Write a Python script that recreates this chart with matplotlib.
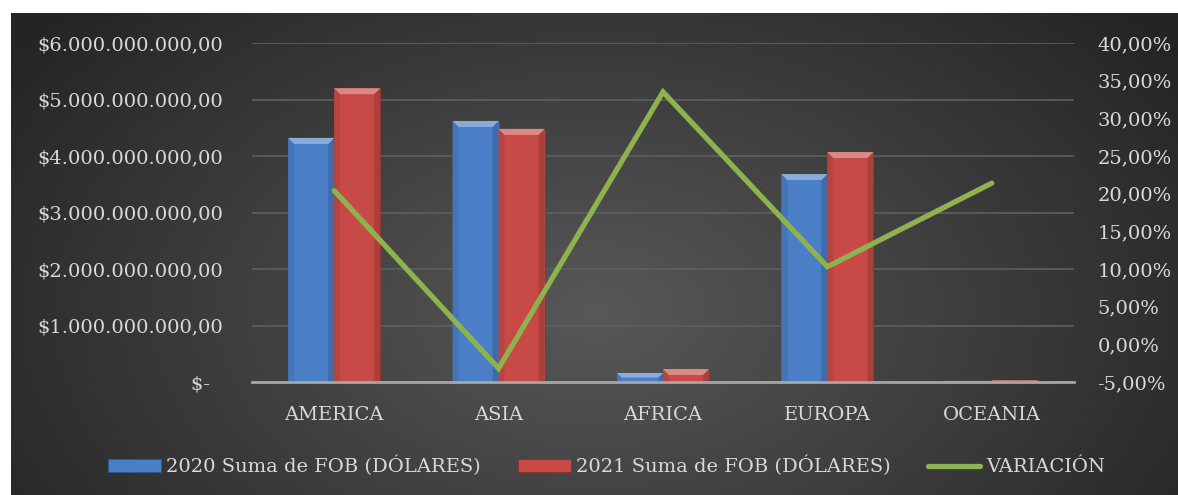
import numpy as np
import matplotlib
matplotlib.use("Agg")
import matplotlib.pyplot as plt
from matplotlib.patches import Polygon
from matplotlib.ticker import FuncFormatter, MultipleLocator

categories = ["AMERICA", "ASIA", "AFRICA", "EUROPA", "OCEANIA"]
fob_2020 = [4.32e9, 4.62e9, 0.16e9, 3.68e9, 0.02e9]
fob_2021 = [5.20e9, 4.48e9, 0.23e9, 4.07e9, 0.03e9]
variacion = [0.204, -0.032, 0.335, 0.103, 0.214]
series_labels = ["2020 Suma de FOB (DÓLARES)", "2021 Suma de FOB (DÓLARES)", "VARIACIÓN"]

W, H = 1178, 495
DPI = 100
fig = plt.figure(figsize=(W / DPI, H / DPI), dpi=DPI)
fig.patch.set_facecolor("white")

FONT = ["DejaVu Serif"]
FS = 14
TXT = "#d9d9d9"

# background radial gradient panel
bg = fig.add_axes([11 / W, 0, 1 - 11 / W, 1 - 13 / H])
bg.set_axis_off()
ny, nx = 300, 700
yy, xx = np.mgrid[0:ny, 0:nx]
cx, cy = nx * 0.5, ny * 0.62
r = np.sqrt(((xx - cx) / (nx * 0.62)) ** 2 + ((yy - cy) / (ny * 0.95)) ** 2)
r = np.clip(r, 0, 1)
inner = np.array([0x58, 0x58, 0x58]) / 255
outer = np.array([0x24, 0x24, 0x24]) / 255
img = inner[None, None, :] * (1 - r[..., None]) + outer[None, None, :] * r[..., None]
bg.imshow(img, aspect="auto", extent=[0, 1, 0, 1], origin="upper")
bg.set_xlim(0, 1)
bg.set_ylim(0, 1)

ax = fig.add_axes([252 / W, 1 - 382 / H, (1074 - 252) / W, (382 - 43) / H])
ax.patch.set_alpha(0)
x = np.arange(len(categories))
bw = 0.28
blue = "#4a7fc7"
red = "#c84a47"
b1 = ax.bar(x - bw / 2, fob_2020, bw, color=blue, edgecolor="#2e5a94", linewidth=0.6, zorder=3)
b2 = ax.bar(x + bw / 2, fob_2021, bw, color=red, edgecolor="#8e2f2d", linewidth=0.6, zorder=3)
ax.set_xlim(-0.5, len(categories) - 0.5)
ax.set_ylim(0, 6e9)
ax.yaxis.set_major_locator(MultipleLocator(1e9))


def money(v, pos):
    if v == 0:
        return "$-  "
    s = f"{v:,.2f}".replace(",", "X").replace(".", ",").replace("X", ".")
    return "$" + s


ax.yaxis.set_major_formatter(FuncFormatter(money))
ax.grid(axis="y", color="#5f5f5f", linewidth=1.2, zorder=0)
ax.set_axisbelow(True)
for s in ["top", "right", "left"]:
    ax.spines[s].set_visible(False)
ax.spines["bottom"].set_color("#a6a6a6")
ax.spines["bottom"].set_linewidth(2)
ax.spines["bottom"].set_zorder(4)
ax.tick_params(axis="both", length=0, colors=TXT, labelsize=FS)
ax.tick_params(axis="y", pad=21)
ax.tick_params(axis="x", pad=17)
ax.set_xticks(x)
ax.set_xticklabels(categories)
for t in ax.get_xticklabels() + ax.get_yticklabels():
    t.set_family(FONT)
    t.set_color(TXT)

ax2 = ax.twinx()
ax2.set_ylim(-0.05, 0.40)
ax2.yaxis.set_major_locator(MultipleLocator(0.05))
ax2.yaxis.set_major_formatter(FuncFormatter(lambda v, p: f"{v*100:.2f}%".replace(".", ",")))
for s in ax2.spines.values():
    s.set_visible(False)
ax2.tick_params(axis="y", length=0, colors=TXT, labelsize=FS, pad=17)
for t in ax2.get_yticklabels():
    t.set_family(FONT)
line, = ax2.plot(x, variacion, color="#8db24e", linewidth=3.8, solid_capstyle="round",
                 solid_joinstyle="miter", zorder=5)

# bevel highlights computed from the drawn bars
fig.canvas.draw()
bev = 6


def lighten(c, f):
    c = np.array(matplotlib.colors.to_rgb(c))
    return tuple(c + (1 - c) * f)


def darken(c, f):
    c = np.array(matplotlib.colors.to_rgb(c))
    return tuple(c * (1 - f))


for bars, col in ((b1, blue), (b2, red)):
    for rect in bars:
        bb = rect.get_window_extent()
        x0, x1, y0, y1 = bb.x0, bb.x1, bb.y0, bb.y1
        b = min(bev, (y1 - y0) / 2)
        top = Polygon([[x0, y1], [x1, y1], [x1 - b, y1 - b], [x0 + b, y1 - b]],
                      closed=True, transform=None, facecolor=lighten(col, 0.35), edgecolor="none", zorder=4)
        left = Polygon([[x0, y1], [x0 + b, y1 - b], [x0 + b, y0], [x0, y0]],
                       closed=True, transform=None, facecolor=darken(col, 0.08), edgecolor="none", zorder=4)
        right = Polygon([[x1, y1], [x1 - b, y1 - b], [x1 - b, y0], [x1, y0]],
                        closed=True, transform=None, facecolor=darken(col, 0.15), edgecolor="none", zorder=4)
        for p in (left, right, top):
            ax.add_artist(p)

handles = [b1, b2, line]
leg = fig.legend(handles, series_labels, loc="center", bbox_to_anchor=(0.515, 1 - 466 / H),
                 ncol=3, frameon=False, handlelength=2.7, handleheight=0.6, handletextpad=0.3,
                 columnspacing=1.9, prop={"family": FONT, "size": FS})
for t in leg.get_texts():
    t.set_color(TXT)

fig.savefig("out.png", dpi=DPI, facecolor=fig.get_facecolor())
